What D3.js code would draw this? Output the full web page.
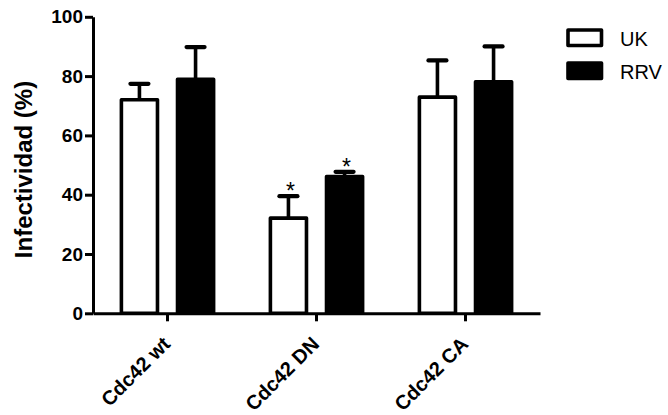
<!DOCTYPE html>
<html>
<head>
<meta charset="utf-8">
<script src="https://cdn.jsdelivr.net/npm/d3@7"></script>
<style>
  html, body { margin: 0; padding: 0; background: #fff; }
  svg { display: block; font-family: "Liberation Sans", Arial, Helvetica, sans-serif; }
</style>
</head>
<body>
<svg id="chart" width="668" height="415"></svg>
<script>
// Infectividad por construcción de Cdc42 (media + DE)
const categories = ["Cdc42 wt", "Cdc42 DN", "Cdc42 CA"];
const seriesNames = ["UK", "RRV"];
const ukMeans = [72.0, 32.1, 72.9];
const ukSD = [5.4, 7.4, 12.4];
const rrvMeans = [78.9, 46.1, 78.1];
const rrvSD = [10.9, 1.6, 11.9];
const significant = [[false, false], [true, true], [false, false]]; // [UK, RRV] por categoría
const yTicks = [0, 20, 40, 60, 80, 100];
const yTitle = "Infectividad (%)";

const rows = categories.map((c, i) => ({
  category: c,
  values: [
    { series: "UK", mean: ukMeans[i], sd: ukSD[i], sig: significant[i][0] },
    { series: "RRV", mean: rrvMeans[i], sd: rrvSD[i], sig: significant[i][1] }
  ]
}));

const svg = d3.select("#chart");
const plot = { left: 93, right: 540, top: 16.8, bottom: 313.3 };

const x0 = d3.scaleBand().domain(categories).range([plot.left, plot.right]).padding(0);
const x1 = d3.scaleBand().domain(seriesNames)
  .range([-x0.bandwidth() * 0.3767, x0.bandwidth() * 0.3767])
  .paddingInner(0.357).paddingOuter(0.1785);
const y = d3.scaleLinear().domain([0, 100]).range([plot.bottom, plot.top]);
const fill = d3.scaleOrdinal().domain(seriesNames).range(["#ffffff", "#000000"]);

const strokeW = 3.6;

// Barras
const groups = svg.append("g").selectAll("g").data(rows).join("g")
  .attr("transform", d => `translate(${x0(d.category) + x0.bandwidth() / 2},0)`);

groups.selectAll("rect.bar").data(d => d.values).join("rect")
  .attr("class", "bar")
  .attr("x", d => x1(d.series))
  .attr("width", x1.bandwidth())
  .attr("y", d => y(d.mean))
  .attr("height", d => y(0) - y(d.mean))
  .attr("fill", d => fill(d.series))
  .attr("stroke", "#000")
  .attr("stroke-width", strokeW)
  .attr("stroke-linejoin", "round");

// Barras de error (solo hacia arriba)
const capW = 22;
groups.selectAll("line.stem").data(d => d.values).join("line")
  .attr("class", "stem")
  .attr("x1", d => x1(d.series) + x1.bandwidth() / 2)
  .attr("x2", d => x1(d.series) + x1.bandwidth() / 2)
  .attr("y1", d => y(d.mean))
  .attr("y2", d => y(d.mean + d.sd))
  .attr("stroke", "#000")
  .attr("stroke-width", strokeW);

groups.selectAll("line.cap").data(d => d.values).join("line")
  .attr("class", "cap")
  .attr("x1", d => x1(d.series) + x1.bandwidth() / 2 - capW / 2 + 2)
  .attr("x2", d => x1(d.series) + x1.bandwidth() / 2 + capW / 2 - 2)
  .attr("y1", d => y(d.mean + d.sd))
  .attr("y2", d => y(d.mean + d.sd))
  .attr("stroke", "#000")
  .attr("stroke-width", 4.2)
  .attr("stroke-linecap", "round");

// Asteriscos de significación
groups.selectAll("text.sig").data(d => d.values.filter(v => v.sig)).join("text")
  .attr("class", "sig")
  .attr("x", d => x1(d.series) + x1.bandwidth() / 2 + 2)
  .attr("y", d => y(d.mean + d.sd) + 3)
  .attr("text-anchor", "middle")
  .attr("font-size", 23)
  .attr("fill", "#000")
  .text("*");

// Eje Y
const yAxis = svg.append("g")
  .attr("transform", `translate(${plot.left},0)`)
  .call(d3.axisLeft(y).tickValues(yTicks).tickSize(8).tickSizeOuter(0).tickPadding(2));
yAxis.select(".domain").attr("stroke-width", 3);
yAxis.selectAll(".tick line").attr("stroke-width", 3);
yAxis.selectAll(".tick text")
  .attr("font-size", 19)
  .attr("font-weight", "bold")
  .attr("fill", "#000");

// Eje X
const xAxis = svg.append("g")
  .attr("transform", `translate(0,${plot.bottom})`)
  .call(d3.axisBottom(x0).tickSize(8).tickSizeOuter(0));
xAxis.select(".domain").attr("stroke-width", 3);
xAxis.selectAll(".tick line").attr("stroke-width", 3);
xAxis.selectAll(".tick text")
  .attr("font-size", 20)
  .attr("font-weight", "bold")
  .attr("fill", "#000")
  .attr("text-anchor", "end")
  .attr("y", 0).attr("dy", 0)
  .attr("transform", "translate(4,32) rotate(-45)");

// Título del eje Y
svg.append("text")
  .attr("transform", `translate(32,${(77 + 262) / 2}) rotate(-90)`)
  .attr("text-anchor", "middle")
  .attr("font-size", 24)
  .attr("font-weight", "bold")
  .attr("fill", "#000")
  .text(yTitle);

// Leyenda
const legend = svg.append("g").attr("transform", "translate(568,30)");
const legendItems = legend.selectAll("g").data(seriesNames).join("g")
  .attr("transform", (d, i) => `translate(0,${i * 33})`);
legendItems.append("rect")
  .attr("width", 33.5).attr("height", 15.5)
  .attr("fill", d => fill(d))
  .attr("stroke", "#000").attr("stroke-width", strokeW)
  .attr("stroke-linejoin", "round");
legendItems.append("text")
  .attr("x", 52).attr("y", 16)
  .attr("font-size", 20)
  .attr("fill", "#000")
  .text(d => d);
</script>
</body>
</html>
